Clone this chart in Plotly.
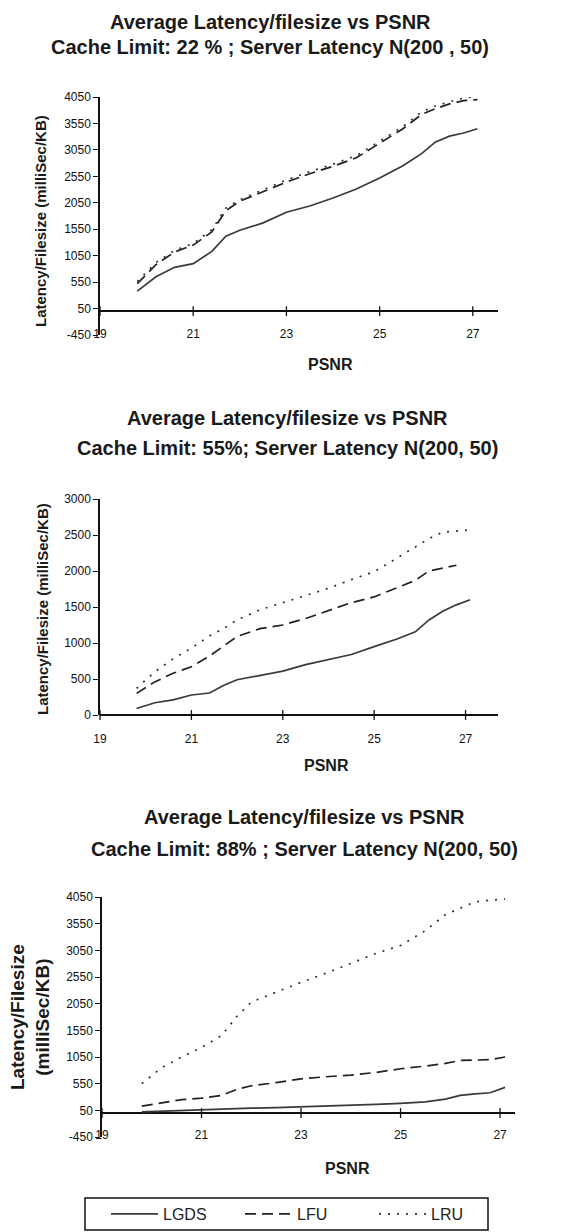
import plotly.graph_objects as go

# The page body has an 8px margin, so the figure is drawn 8px in from the
# window corner; the figure is sized to fill the rest of the window.
PAGE_OFF = 8
WIN_W, WIN_H = 587, 1232
W, H = WIN_W - PAGE_OFF, WIN_H - PAGE_OFF

# ---------------- data ----------------
psnr = [19.8, 20.2, 20.6, 21.0, 21.4, 21.7, 22.0, 22.5, 23.0, 23.5,
        24.0, 24.5, 25.0, 25.5, 25.9, 26.2, 26.5, 26.8, 27.1]

series_names = ["LGDS", "LFU", "LRU"]

# Cache limit 22 %
lgds_22 = [380, 650, 830, 900, 1130, 1420, 1530, 1670, 1870, 1990,
           2140, 2310, 2520, 2750, 2980, 3200, 3310, 3370, 3450]
lfu_22 = [520, 880, 1120, 1250, 1500, 1900, 2080, 2260, 2440, 2600,
          2740, 2900, 3180, 3450, 3720, 3830, 3920, 3980, 4000]
lru_22 = [560, 920, 1150, 1280, 1540, 1950, 2110, 2300, 2480, 2640,
          2780, 2940, 3210, 3490, 3770, 3880, 3960, 4030, 4060]

# Cache limit 55 %
lgds_55 = [90, 170, 210, 278, 305, 410, 490, 545, 610, 700,
           770, 840, 950, 1055, 1155, 1320, 1440, 1530, 1600]
lfu_55 = [300, 460, 580, 670, 820, 960, 1090, 1200, 1250, 1340,
          1450, 1560, 1640, 1770, 1870, 2000, 2040, 2080, None]
lru_55 = [370, 600, 780, 930, 1100, 1200, 1320, 1460, 1560, 1660,
          1760, 1880, 1990, 2180, 2340, 2450, 2540, 2560, 2570]

# Cache limit 88 %
lgds_88 = [20, 35, 50, 60, 70, 80, 90, 100, 112, 125,
           140, 160, 180, 210, 260, 330, 360, 380, 480]
lfu_88 = [130, 190, 250, 280, 330, 440, 510, 570, 640, 680,
          710, 760, 830, 880, 930, 985, 990, 1000, 1050]
lru_88 = [550, 850, 1050, 1230, 1450, 1800, 2080, 2270, 2450, 2620,
          2800, 2990, 3140, 3420, 3720, 3840, 3960, 3990, 4010]

x_ticks = [19, 21, 23, 25, 27]
y_ticks_wide = [-450, 50, 550, 1050, 1550, 2050, 2550, 3050, 3550, 4050]
y_ticks_55 = [0, 500, 1000, 1500, 2000, 2500, 3000]

title_line1 = "Average Latency/filesize vs PSNR"
subtitles = ["Cache Limit: 22 % ; Server Latency N(200 , 50)",
             "Cache Limit: 55%; Server Latency N(200, 50)",
             "Cache Limit: 88% ; Server Latency N(200, 50)"]
x_title = "PSNR"
y_title = "Latency/Filesize (milliSec/KB)"
y_title_2line = "Latency/Filesize<br>(milliSec/KB)"

# ---------------- helpers / styles ----------------
def fx(p):
    return (p - PAGE_OFF) / W

def fy(p):
    return 1 - (p - PAGE_OFF) / H

styles = {
    "LGDS": dict(color="#3a3a3a", width=1.7, dash="solid"),
    "LFU": dict(color="#222222", width=1.7, dash="11px,6px"),
    "LRU": dict(color="#333333", width=1.7, dash="2px,7px"),
}

FONT = "Liberation Sans, Arial, sans-serif"

panels = [
    dict(data=[lgds_22, lfu_22, lru_22], xdom=(100, 498), ydom=(97, 335),
         xr=[19, 27.54], yr=[-450, 4050], yt=y_ticks_wide, lab=333,
         t1=22, t2=47, tx=270, xt=(330, 364), ytit=(40, 221), sub=subtitles[0]),
    dict(data=[lgds_55, lfu_55, lru_55], xdom=(100, 498), ydom=(499, 715),
         xr=[19, 27.71], yr=[0, 3000], yt=y_ticks_55, lab=738,
         t1=418, t2=448, tx=287, xt=(326, 765), ytit=(42, 609), sub=subtitles[1]),
    dict(data=[lgds_88, lfu_88, lru_88], xdom=(102, 515), ydom=(897, 1137),
         xr=[19, 27.3], yr=[-450, 4050], yt=y_ticks_wide, lab=1134,
         t1=817, t2=849, tx=304, xt=(347, 1168), ytit=(30, 1017), sub=subtitles[2]),
]

fig = go.Figure()
annotations = []
layout = {}

for i, p in enumerate(panels):
    n = "" if i == 0 else str(i + 1)
    xa, ya = "x" + n, "y" + n
    for name, vals in zip(series_names, p["data"]):
        fig.add_trace(go.Scatter(
            x=psnr, y=vals, mode="lines", name=name,
            line=styles[name], xaxis=xa, yaxis=ya,
            legendgroup=name, showlegend=(i == 2),
            connectgaps=False, hoverinfo="skip"))
    # tick marks on the category axis (which crosses at 0)
    fig.add_trace(go.Scatter(
        x=x_ticks, y=[0] * len(x_ticks), mode="markers",
        marker=dict(symbol="line-ns", size=7, line=dict(width=1.3, color="#111")),
        xaxis=xa, yaxis=ya, showlegend=False, hoverinfo="skip", cliponaxis=False))

    layout["xaxis" + n] = dict(
        domain=[fx(p["xdom"][0]), fx(p["xdom"][1])], range=p["xr"],
        anchor="free", position=fy(p["lab"] - 8),
        tickvals=x_ticks, ticks="", showline=False, showgrid=False,
        zeroline=False, tickfont=dict(family=FONT, size=12, color="#111"))
    layout["yaxis" + n] = dict(
        domain=[fy(p["ydom"][1]), fy(p["ydom"][0])], range=p["yr"],
        anchor=xa, tickvals=p["yt"], ticktext=[str(v) for v in p["yt"]],
        ticks="outside", ticklen=5, tickcolor="#111", tickwidth=1.3,
        showline=True, linecolor="#111", linewidth=1.5, showgrid=False,
        zeroline=True, zerolinecolor="#111", zerolinewidth=1.6,
        tickfont=dict(family=FONT, size=12, color="#111"))

    tfont = dict(family=FONT, size=20, color="#1a1a1a")
    annotations.append(dict(text="<b>" + title_line1 + "</b>", x=fx(p["tx"]), y=fy(p["t1"]),
                            xref="paper", yref="paper", showarrow=False,
                            xanchor="center", yanchor="middle", font=tfont))
    annotations.append(dict(text="<b>" + p["sub"] + "</b>", x=fx(p["tx"]), y=fy(p["t2"]),
                            xref="paper", yref="paper", showarrow=False,
                            xanchor="center", yanchor="middle", font=tfont))
    annotations.append(dict(text="<b>" + x_title + "</b>", x=fx(p["xt"][0]), y=fy(p["xt"][1]),
                            xref="paper", yref="paper", showarrow=False,
                            xanchor="center", yanchor="middle",
                            font=dict(family=FONT, size=16, color="#1a1a1a")))
    if i < 2:
        annotations.append(dict(text="<b>" + y_title + "</b>", x=fx(p["ytit"][0]), y=fy(p["ytit"][1]),
                                xref="paper", yref="paper", showarrow=False, textangle=-90,
                                xanchor="center", yanchor="middle",
                                font=dict(family=FONT, size=15, color="#1a1a1a")))
    else:
        annotations.append(dict(text="<b>" + y_title_2line + "</b>", x=fx(p["ytit"][0]), y=fy(p["ytit"][1]),
                                xref="paper", yref="paper", showarrow=False, textangle=-90,
                                xanchor="center", yanchor="middle",
                                font=dict(family=FONT, size=19, color="#1a1a1a")))

fig.update_layout(
    **layout,
    annotations=annotations,
    width=W, height=H,
    margin=dict(l=0, r=0, t=0, b=0, autoexpand=False),
    paper_bgcolor="white", plot_bgcolor="white",
    showlegend=True,
    legend=dict(orientation="h", x=fx(106), xanchor="left",
                y=fy(1214), yanchor="middle",
                itemwidth=47, entrywidth=72, entrywidthmode="pixels",
                traceorder="normal",
                font=dict(family=FONT, size=16, color="#222"),
                bgcolor="rgba(0,0,0,0)", borderwidth=0),
    shapes=[dict(type="rect", xref="paper", yref="paper",
                 x0=fx(85), x1=fx(488), y0=fy(1230), y1=fy(1198),
                 line=dict(color="#111", width=1.5))],
)

fig.write_html("out.html")
